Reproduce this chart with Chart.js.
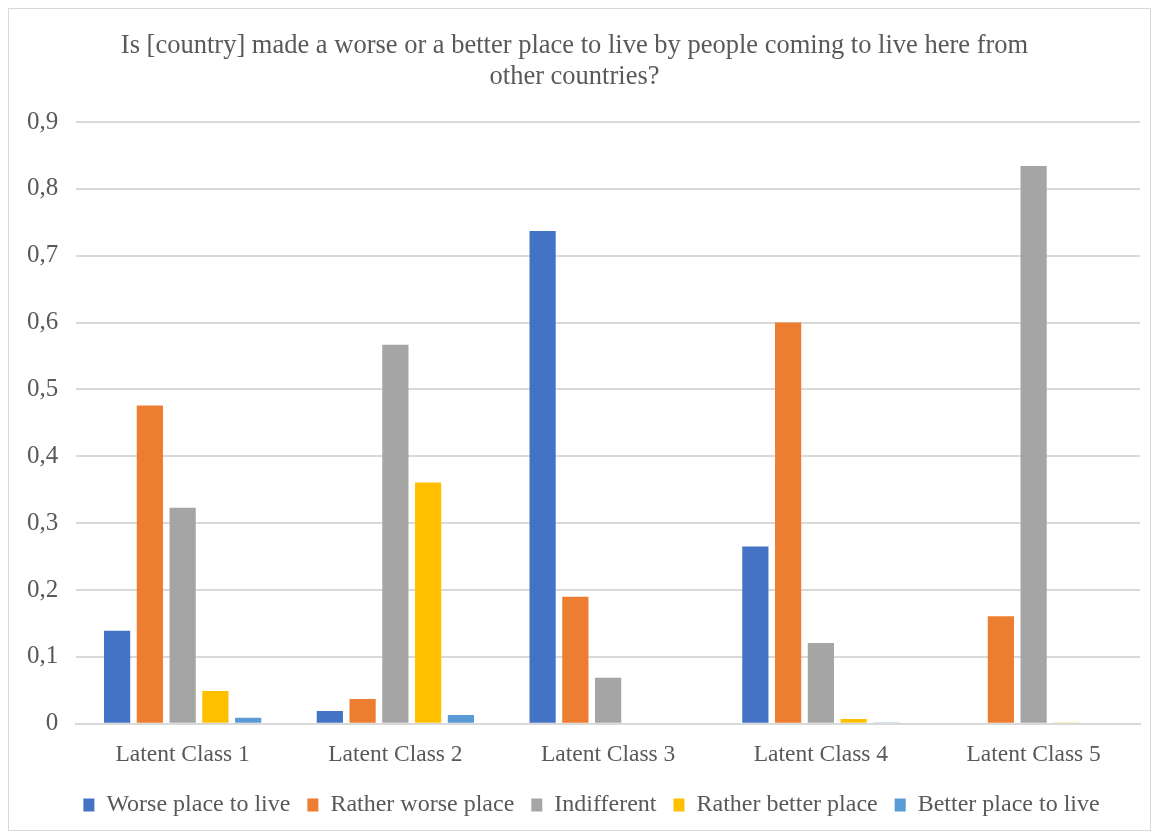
<!DOCTYPE html>
<html>
<head>
    <script src="https://cdn.jsdelivr.net/npm/chart.js"></script>
    <title>Latent classes</title>
    <style>
        body { margin: 0; background: #fff; }
        #frame {
            position: absolute; left: 8px; top: 8px;
            width: 1143px; height: 823px;
            border: 1px solid #d9d9d9; box-sizing: border-box;
        }
    </style>
</head>
<body>
    <div id="frame"><canvas id="classChart"></canvas></div>

    <script>
        const classes = ['Latent Class 1', 'Latent Class 2', 'Latent Class 3', 'Latent Class 4', 'Latent Class 5'];
        const worsePlace = [0.139, 0.019, 0.737, 0.265, 0];
        const ratherWorse = [0.476, 0.037, 0.190, 0.600, 0.161];
        const indifferent = [0.323, 0.567, 0.069, 0.121, 0.834];
        const ratherBetter = [0.049, 0.361, 0, 0.007, 0.002];
        const betterPlace = [0.009, 0.013, 0, 0.002, 0];

        const serif = "'Liberation Serif', 'Times New Roman', serif";
        const grey = '#595959';

        function series(label, data, color) {
            return {
                label: label,
                data: data,
                backgroundColor: color,
                borderWidth: 0,
                barPercentage: 0.8,
                categoryPercentage: 0.77
            };
        }

        // legend row sits a little right of centre
        const nudgeLegend = {
            id: 'nudgeLegend',
            afterLayout(chart) {
                chart.legend.left += 17;
                chart.legend.right += 17;
            }
        };

        new Chart(document.getElementById('classChart'), {
            type: 'bar',
            data: {
                labels: classes,
                datasets: [
                    series('Worse place to live', worsePlace, '#4472c4'),
                    series('Rather worse place', ratherWorse, '#ed7d31'),
                    series('Indifferent', indifferent, '#a5a5a5'),
                    series('Rather better place', ratherBetter, '#ffc000'),
                    series('Better place to live', betterPlace, '#5b9bd5')
                ]
            },
            plugins: [nudgeLegend],
            options: {
                responsive: true,
                maintainAspectRatio: false,
                animation: false,
                layout: { padding: { left: 0, right: 10, top: 22, bottom: 3 } },
                plugins: {
                    title: {
                        display: true,
                        text: ['Is [country] made a worse or a better place to live by people coming to live here from', 'other countries?'],
                        color: grey,
                        font: { family: serif, size: 26.5, weight: 'normal', lineHeight: 1.15 },
                        padding: { top: 0, bottom: 30 }
                    },
                    legend: {
                        position: 'bottom',
                        labels: {
                            color: grey,
                            font: { family: serif, size: 24 },
                            boxWidth: 11,
                            boxHeight: 13,
                            padding: 17
                        }
                    },
                    tooltip: { enabled: false }
                },
                scales: {
                    x: {
                        grid: { display: false, drawTicks: false },
                        border: { color: '#d9d9d9', width: 2 },
                        ticks: { color: grey, font: { family: serif, size: 23.5 }, padding: 17 },
                        // pull the class labels closer to the legend row
                        afterFit: scale => { scale.height -= 10; }
                    },
                    y: {
                        min: 0,
                        max: 0.9,
                        ticks: {
                            stepSize: 0.1,
                            color: grey,
                            font: { family: serif, size: 25 },
                            padding: 18,
                            callback: v => v === 0 ? '0' : v.toFixed(1).replace('.', ',')
                        },
                        grid: { color: '#d9d9d9', lineWidth: 2, drawTicks: false },
                        border: { display: false }
                    }
                }
            }
        });
    </script>
</body>
</html>
